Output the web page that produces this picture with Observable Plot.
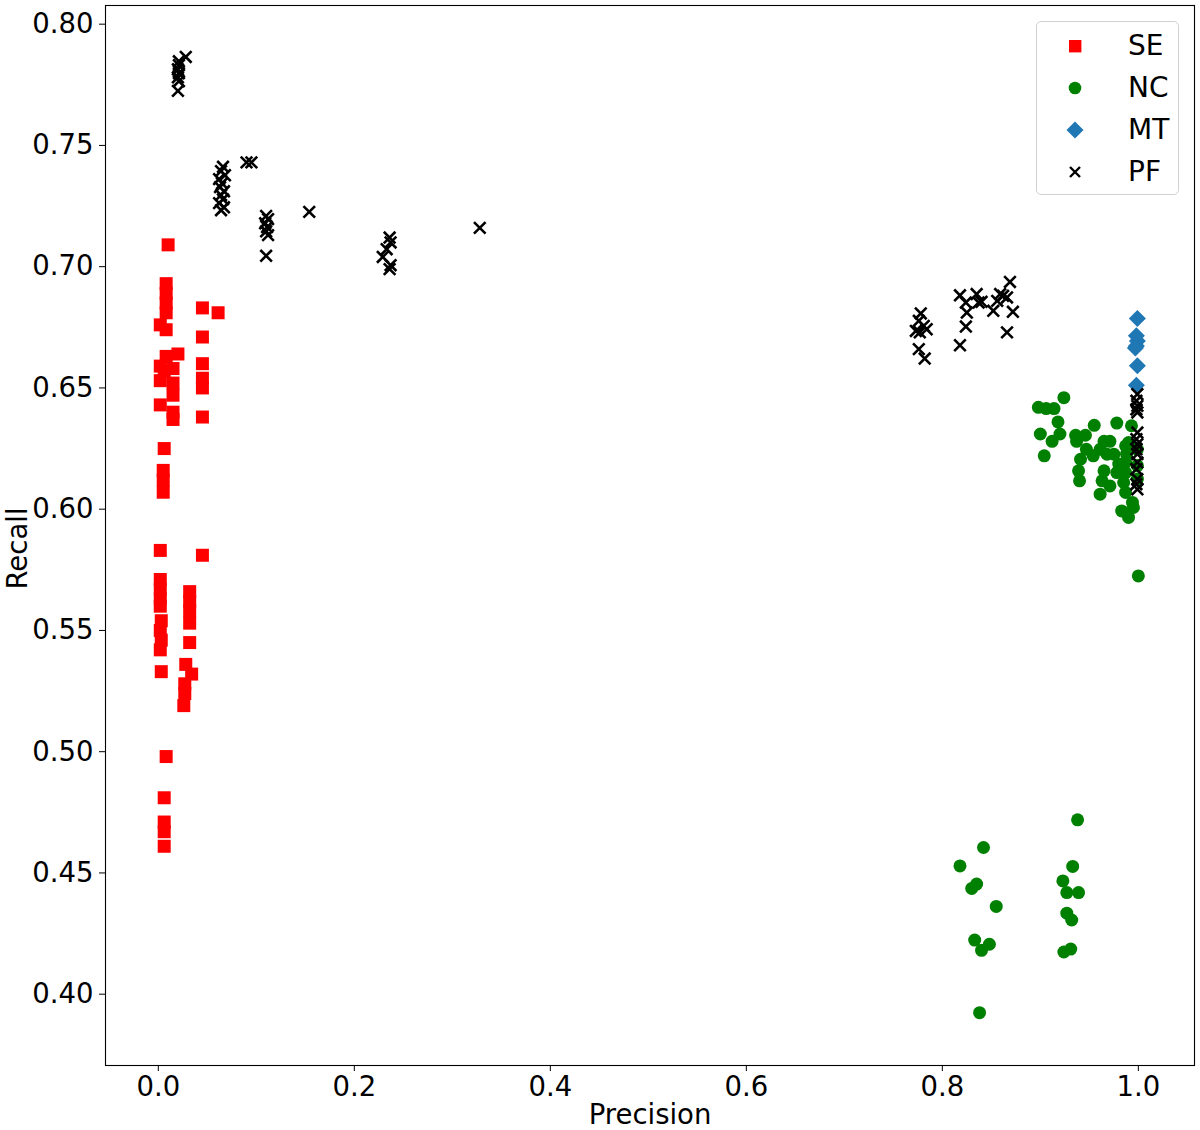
<!DOCTYPE html>
<html>
<head>
<meta charset="utf-8">
<script src="https://cdn.jsdelivr.net/npm/d3@7"></script>
<script src="https://cdn.jsdelivr.net/npm/@observablehq/plot@0.6"></script>
<style>
  html, body { margin: 0; padding: 0; background: white; }
  #wrap { position: relative; width: 1200px; height: 1130px; font-family: "DejaVu Sans", sans-serif; }
  #legend { position: absolute; left: 1036px; top: 21px; width: 143px; height: 174px;
    border: 1px solid #d0d0d0; border-radius: 5px; background: rgba(255,255,255,0.8); box-sizing: border-box; }
  .row { position: absolute; left: 0; height: 40px; width: 142px; }
  .row svg { position: absolute; left: 26px; top: 8px; }
  .row span { position: absolute; left: 91px; top: 0; font-size: 28px; line-height: 40px; color: black; }
</style>
</head>
<body>
<div id="wrap"></div>
<script>
const xTicks = [0.0, 0.2, 0.4, 0.6, 0.8, 1.0];
const yTicks = [0.40, 0.45, 0.50, 0.55, 0.60, 0.65, 0.70, 0.75, 0.80];
const seriesNames = ["SE", "NC", "MT", "PF"];

const sePrecision = [0.010,0.008,0.008,0.008,0.008,0.002,0.008,0.045,0.045,0.045,0.045,0.045,0.045,0.061,
  0.020,0.008,0.002,0.006,0.015,0.002,0.015,0.015,0.002,0.015,0.015,0.006,0.005,0.005,0.005,0.002,0.045,
  0.002,0.002,0.002,0.002,0.032,0.032,0.032,0.032,0.003,0.002,0.003,0.002,0.032,0.003,0.028,0.034,
  0.027,0.027,0.026,0.008,0.006,0.006,0.006,0.006];
const seRecall = [0.709,0.693,0.689,0.685,0.681,0.676,0.674,0.683,0.671,0.660,0.654,0.650,0.638,0.681,
  0.664,0.663,0.659,0.657,0.658,0.653,0.652,0.647,0.643,0.640,0.637,0.625,0.616,0.612,0.607,0.583,0.581,
  0.571,0.567,0.563,0.560,0.566,0.562,0.558,0.553,0.554,0.550,0.546,0.542,0.545,0.533,0.536,0.532,
  0.528,0.524,0.519,0.498,0.481,0.471,0.467,0.461];

const ncPrecision = [0.924,0.898,0.906,0.914,0.918,0.900,0.920,0.912,0.904,0.936,0.937,0.946,0.955,0.978,
  0.993,0.965,0.971,0.947,0.961,0.968,0.975,0.941,0.954,0.939,0.940,0.965,0.963,0.971,0.961,0.987,0.988,
  0.987,0.987,0.985,0.987,0.994,0.983,0.990,0.995,0.990,0.999,0.999,0.999,1.000,0.978,0.980,
  0.938,0.842,0.818,0.933,0.835,0.830,0.923,0.927,0.939,0.855,0.927,0.932,0.833,0.848,0.840,0.924,0.931,0.838];
const ncRecall = [0.646,0.642,0.6415,0.6415,0.636,0.631,0.631,0.628,0.622,0.6305,0.628,0.6305,0.6346,0.6355,
  0.6344,0.628,0.628,0.6247,0.6247,0.6227,0.6227,0.6206,0.622,0.6158,0.6117,0.6158,0.6117,0.6096,0.6062,0.6261,0.6227,
  0.6193,0.6151,0.611,0.6069,0.6028,0.5993,0.5966,0.6007,0.6275,0.6247,0.618,0.6124,0.5725,0.6151,0.6186,
  0.4719,0.4605,0.4529,0.4527,0.4454,0.4436,0.4467,0.4419,0.4419,0.4362,0.4334,0.4306,0.4223,0.4206,0.4181,0.4174,0.4186,0.3924];

const mtPrecision = [0.999,0.998,0.999,0.998,0.997,0.999,0.998];
const mtRecall = [0.6786,0.6715,0.6694,0.6673,0.6665,0.6591,0.6511];

const pfPrecision = [0.028,0.021,0.021,0.020,0.021,0.020,0.021,0.020,
  0.066,0.064,0.068,0.062,0.065,0.063,0.067,0.064,0.066,0.062,0.067,0.064,
  0.090,0.095,
  0.110,0.112,0.109,0.111,0.110,0.112,0.110,
  0.154,
  0.236,0.237,0.233,0.229,0.237,0.236,
  0.328,
  0.778,0.776,0.781,0.784,0.773,0.777,0.776,0.782,
  0.818,0.835,0.824,0.837,0.825,0.824,0.818,0.840,
  0.869,0.859,0.866,0.856,0.852,0.872,0.866,0.862,
  0.999,0.998,0.999,0.998,0.999,0.999,0.998,0.999,0.998,0.999,0.999,0.998,0.999,0.998,0.999];
const pfRecall = [0.7865,0.7847,0.7831,0.7814,0.7798,0.7781,0.7765,0.7725,
  0.7412,0.7394,0.7377,0.7361,0.7344,0.7328,0.7311,0.7295,0.7278,0.7262,0.7245,0.7233,
  0.743,0.743,
  0.7209,0.7196,0.7179,0.7163,0.7146,0.713,0.7045,
  0.7226,
  0.712,0.710,0.7072,0.704,0.7006,0.699,
  0.716,
  0.6807,0.6777,0.6756,0.6742,0.6735,0.6729,0.666,0.6621,
  0.6882,0.6887,0.6852,0.6852,0.6811,0.6753,0.6676,0.6855,
  0.6937,0.6887,0.6873,0.6859,0.6818,0.6814,0.6729,0.688,
  0.6474,0.6447,0.6426,0.6412,0.6399,0.6316,0.6289,0.6268,0.6247,0.6227,0.6193,0.6165,0.6124,0.6103,0.6082];

const zip = (xs, ys) => xs.map((x, i) => ({precision: x, recall: ys[i]}));
const se = zip(sePrecision, seRecall);
const nc = zip(ncPrecision, ncRecall);
const mt = zip(mtPrecision, mtRecall);
const pf = zip(pfPrecision, pfRecall);

const mk = (fn) => ({draw(ctx, size) { fn(ctx, Math.sqrt(size / Math.PI)); }});
const symSquare = mk((c, r) => { c.moveTo(-r, -r); c.lineTo(r, -r); c.lineTo(r, r); c.lineTo(-r, r); c.closePath(); });
const symCircle = mk((c, r) => { c.moveTo(r, 0); c.arc(0, 0, r, 0, 2 * Math.PI); });
const symDiamond = mk((c, r) => { c.moveTo(0, -r); c.lineTo(r, 0); c.lineTo(0, r); c.lineTo(-r, 0); c.closePath(); });
const symTimes = mk((c, r) => { c.moveTo(-r, -r); c.lineTo(r, r); c.moveTo(-r, r); c.lineTo(r, -r); });

const chart = Plot.plot({
  width: 1200,
  height: 1130,
  marginLeft: 105,
  marginRight: 6,
  marginTop: 5,
  marginBottom: 65,
  style: {fontFamily: "DejaVu Sans", fontSize: "27.5px", color: "black", background: "white"},
  x: {domain: [-0.0539, 1.0573]},
  y: {domain: [0.3706, 0.8077]},
  marks: [
    Plot.dot(se, {x: "precision", y: "recall", symbol: symSquare, r: 6.5, fill: "#ff0000"}),
    Plot.dot(nc, {x: "precision", y: "recall", symbol: symCircle, r: 6.5, fill: "#008000"}),
    Plot.dot(mt, {x: "precision", y: "recall", symbol: symDiamond, r: 8.5, fill: "#1f77b4"}),
    Plot.dot(pf, {x: "precision", y: "recall", symbol: symTimes, r: 5.8, fill: "none", stroke: "black", strokeWidth: 2.6}),
    Plot.frame({stroke: "black", strokeWidth: 1.1}),
    Plot.axisX({ticks: xTicks, tickFormat: d3.format(".1f"), tickSize: 6, tickPadding: 5, label: null, fontSize: 27.5}),
    Plot.axisY({ticks: yTicks, tickFormat: d3.format(".2f"), tickSize: 6, tickPadding: 6, label: null, fontSize: 27.5}),
    Plot.text(["Precision"], {frameAnchor: "bottom", dy: 58, fontSize: 27.5, fill: "black"}),
    Plot.text(["Recall"], {frameAnchor: "left", textAnchor: "middle", dx: -87, dy: 13, rotate: -90, fontSize: 27.5, fill: "black"})
  ]
});

const wrap = document.getElementById("wrap");
wrap.appendChild(chart);

const legendSymbols = {
  SE: '<rect x="6" y="6" width="12.4" height="12.4" fill="#ff0000"/>',
  NC: '<circle cx="12" cy="12" r="6.3" fill="#008000"/>',
  MT: '<path d="M12,3.5L20.5,12L12,20.5L3.5,12Z" fill="#1f77b4"/>',
  PF: '<path d="M7,7L17,17M7,17L17,7" stroke="black" stroke-width="2.4" fill="none"/>'
};
const legend = document.createElement("div");
legend.id = "legend";
seriesNames.forEach((name, i) => {
  const row = document.createElement("div");
  row.className = "row";
  row.style.top = (4 + i * 42) + "px";
  row.innerHTML = '<svg width="24" height="24" viewBox="0 0 24 24">' + legendSymbols[name] + '</svg><span>' + name + '</span>';
  legend.appendChild(row);
});
wrap.appendChild(legend);
</script>
</body>
</html>
